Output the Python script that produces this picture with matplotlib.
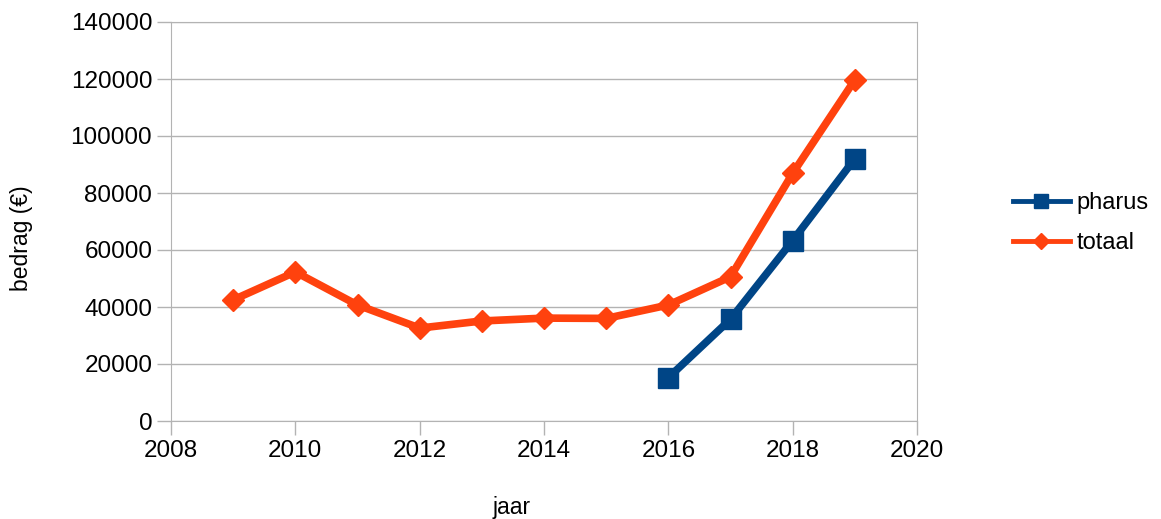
import matplotlib.pyplot as plt

plt.rcParams['font.family'] = ['Liberation Sans', 'DejaVu Sans']

# data
jaren_pharus = [2016, 2017, 2018, 2019]
pharus = [15200, 35700, 63300, 92000]
jaren_totaal = [2009, 2010, 2011, 2012, 2013, 2014, 2015, 2016, 2017, 2018, 2019]
totaal = [42500, 52300, 40700, 32600, 35100, 36100, 36000, 40700, 50600, 86900, 119700]

fig = plt.figure(figsize=(11.61, 5.19), dpi=100)
ax = fig.add_axes([171/1161, 1-421/519, (917-171)/1161, (421-22)/519])

ax.plot(jaren_pharus, pharus, color='#004586', lw=5.5, marker='s', ms=14,
        label='pharus', solid_joinstyle='miter')
ax.plot(jaren_totaal, totaal, color='#ff420e', lw=5.5, marker='D', ms=11,
        label='totaal', solid_joinstyle='miter')

ax.set_xlim(2008, 2020)
ax.set_ylim(0, 140000)
ax.set_xticks(range(2008, 2021, 2))
ax.set_yticks(range(0, 140001, 20000))
ax.grid(True, axis='y', color='#b3b3b3', lw=1)
ax.set_axisbelow(True)
for s in ax.spines.values():
    s.set_color('#b3b3b3')
ax.tick_params(colors='#b3b3b3', labelcolor='black', labelsize=17.5, length=10, width=1)

ax.set_xlabel('jaar', fontsize=16.5)
ax.set_ylabel('bedrag (€)', fontsize=16.5)
ax.xaxis.set_label_coords(0.456, -0.216)
ax.xaxis.label.set_va('center')
ax.yaxis.set_label_coords(-0.2, 0.459)
ax.yaxis.label.set_va('center')

leg = ax.legend(loc='center left', bbox_to_anchor=(1.1, 0.496), frameon=False,
                fontsize=17, handlelength=2.4, labelspacing=0.75,
                handletextpad=0.3, markerscale=0.75)
for ln in leg.get_lines():
    ln.set_linewidth(3.5)

plt.savefig('out.png', dpi=100)
